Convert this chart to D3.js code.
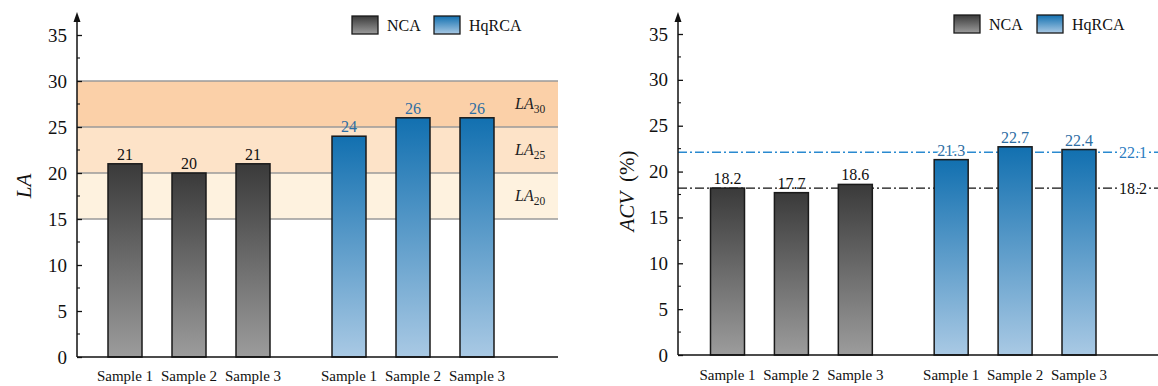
<!DOCTYPE html>
<html>
<head>
<meta charset="utf-8">
<script src="https://cdn.jsdelivr.net/npm/d3@7"></script>
<style>
  html, body { margin: 0; padding: 0; background: #fff; }
  svg { display: block; }
  svg text { font-family: "Liberation Serif", "Times New Roman", Times, "DejaVu Serif", serif; }
</style>
</head>
<body>
<svg id="chart" width="1158" height="386"></svg>
<script>
// ---- data ----
const groups = ["NCA", "HqRCA"];
const samples = ["Sample 1", "Sample 2", "Sample 3"];
const laNCA = [21, 20, 21];
const laHqRCA = [24, 26, 26];
const acvNCA = [18.2, 17.7, 18.6];
const acvHqRCA = [21.3, 22.7, 22.4];
const yTicks = [0, 5, 10, 15, 20, 25, 30, 35];
const laBands = [
  { lo: 15, hi: 20, sub: "20" },
  { lo: 20, hi: 25, sub: "25" },
  { lo: 25, hi: 30, sub: "30" }
];
const acvRefs = [
  { group: "HqRCA", value: 22.1 },
  { group: "NCA", value: 18.2 }
];

// ---- styles ----
const SERIF = "'Liberation Serif', 'Times New Roman', Times, 'DejaVu Serif', serif";
const bandFill = { "20": "#fef2df", "25": "#fde3c8", "30": "#fbd0a8" };
const labelColor = { NCA: "#111", HqRCA: "#2d6ea3" };
const refColor = { NCA: "#111", HqRCA: "#2a8ad0" };

const svg = d3.select("#chart").attr("font-family", SERIF);
const defs = svg.append("defs");

function gradient(id, top, bottom) {
  const g = defs.append("linearGradient").attr("id", id)
    .attr("x1", 0).attr("y1", 0).attr("x2", 0).attr("y2", 1);
  g.append("stop").attr("offset", "0%").attr("stop-color", top);
  g.append("stop").attr("offset", "100%").attr("stop-color", bottom);
}
gradient("g-NCA", "#3a3a3a", "#9c9c9c");
gradient("g-HqRCA", "#1270b0", "#a9c9e4");

function panel(opt) {
  const g = svg.append("g").attr("font-family", SERIF);
  const y = d3.scaleLinear().domain([0, 35]).range([opt.y0, opt.y35]);
  // slot position: sample index plus half a slot gap between groups
  const x = d3.scaleLinear().domain([0, 5.5]).range([opt.xFirst, opt.xLast]);
  const barW = 34;

  const rows = [];
  groups.forEach((grp, gi) => {
    opt.values[gi].forEach((v, si) => {
      rows.push({ grp, sample: samples[si], v, pos: gi * 3.5 + si });
    });
  });

  // background bands
  if (opt.bands) {
    g.selectAll("rect.band").data(opt.bands).join("rect")
      .attr("x", opt.axisX).attr("width", opt.xEnd - opt.axisX)
      .attr("y", d => y(d.hi)).attr("height", d => y(d.lo) - y(d.hi))
      .attr("fill", d => bandFill[d.sub]);
    const lines = Array.from(new Set(opt.bands.flatMap(d => [d.lo, d.hi])));
    g.selectAll("line.grid").data(lines).join("line")
      .attr("x1", opt.axisX).attr("x2", opt.xEnd)
      .attr("y1", d => y(d)).attr("y2", d => y(d))
      .attr("stroke", "#9a9a9a").attr("stroke-width", 1.5);
    const lab = g.selectAll("text.bandlab").data(opt.bands).join("text")
      .attr("x", opt.xEnd - 43).attr("y", d => y((d.lo + d.hi) / 2) + 5)
      .attr("font-size", 16).attr("fill", "#222");
    lab.append("tspan").attr("font-style", "italic").text("LA");
    lab.append("tspan").attr("font-size", 11.5).attr("dy", 4).text(d => d.sub);
  }

  // reference lines
  if (opt.refs) {
    g.selectAll("line.ref").data(opt.refs).join("line")
      .attr("x1", opt.axisX).attr("x2", opt.xEnd)
      .attr("y1", d => y(d.value)).attr("y2", d => y(d.value))
      .attr("stroke", d => refColor[d.group]).attr("stroke-width", 1.4)
      .attr("stroke-dasharray", "9,3,2,3");
  }

  // bars
  g.selectAll("rect.bar").data(rows).join("rect")
    .attr("x", d => x(d.pos) - barW / 2).attr("width", barW)
    .attr("y", d => y(d.v)).attr("height", d => y(0) - y(d.v))
    .attr("fill", d => `url(#g-${d.grp})`)
    .attr("stroke", "#1a1a1a").attr("stroke-width", 1.5);

  // bar value labels
  g.selectAll("text.val").data(rows).join("text")
    .attr("x", d => x(d.pos)).attr("y", d => y(d.v) - 4)
    .attr("text-anchor", "middle").attr("font-size", 16)
    .attr("fill", d => labelColor[d.grp])
    .attr("stroke", d => (opt.refs && d.grp === "HqRCA") ? "#fff" : "none")
    .attr("stroke-width", 4).attr("paint-order", "stroke")
    .text(d => opt.fmt(d.v));

  // reference value labels
  if (opt.refs) {
    g.selectAll("text.refval").data(opt.refs).join("text")
      .attr("x", opt.xEnd - 25).attr("y", d => y(d.value) + 5.5)
      .attr("text-anchor", "middle").attr("font-size", 16)
      .attr("fill", d => d.group === "HqRCA" ? "#2a7cbf" : "#111")
      .attr("stroke", "#fff").attr("stroke-width", 5).attr("paint-order", "stroke")
      .text(d => d.value.toFixed(1));
  }

  // x labels
  g.selectAll("text.xl").data(rows).join("text")
    .attr("x", d => x(d.pos)).attr("y", opt.xLabelY)
    .attr("text-anchor", "middle").attr("font-size", 15).attr("fill", "#111")
    .text(d => d.sample);

  // x axis baseline
  g.append("line").attr("x1", opt.axisX).attr("x2", opt.xEnd)
    .attr("y1", y(0)).attr("y2", y(0))
    .attr("stroke", "#111").attr("stroke-width", 1.5);

  // y axis with inward ticks
  const ya = g.append("g").attr("transform", `translate(${opt.axisX},0)`)
    .call(d3.axisLeft(y).tickValues(yTicks).tickSize(-5).tickPadding(10).tickSizeOuter(0));
  ya.attr("font-family", SERIF);
  ya.select(".domain").remove();
  ya.selectAll(".tick line").attr("stroke", "#111").attr("stroke-width", 1.3);
  ya.selectAll(".tick text").attr("font-size", 19).attr("fill", "#111");
  const minor = d3.range(2.5, 35, 5);
  ya.selectAll("line.minor").data(minor).join("line")
    .attr("x1", 0).attr("x2", 3).attr("y1", d => y(d)).attr("y2", d => y(d))
    .attr("stroke", "#111").attr("stroke-width", 1.1);
  g.append("line").attr("x1", opt.axisX).attr("x2", opt.axisX)
    .attr("y1", y(0)).attr("y2", opt.arrowTop + 6)
    .attr("stroke", "#111").attr("stroke-width", 1.5);
  g.append("path")
    .attr("d", `M${opt.axisX},${opt.arrowTop} L${opt.axisX - 3.5},${opt.arrowTop + 10} L${opt.axisX + 3.5},${opt.arrowTop + 10} Z`)
    .attr("fill", "#111");

  // y title
  const yt = g.append("text")
    .attr("transform", `translate(${opt.titleX},${opt.titleY}) rotate(-90)`)
    .attr("text-anchor", "middle").attr("font-size", 21).attr("fill", "#111");
  yt.append("tspan").attr("font-style", "italic").text(opt.title);
  if (opt.titleUnit) yt.append("tspan").attr("dx", 10).text(opt.titleUnit);

  // legend
  groups.forEach((grp, gi) => {
    const lx = opt.legendX[gi];
    g.append("rect").attr("x", lx).attr("y", opt.legendY).attr("width", 26).attr("height", 18)
      .attr("fill", `url(#g-${grp})`).attr("stroke", "#1a1a1a").attr("stroke-width", 1.3);
    g.append("text").attr("x", lx + 35).attr("y", opt.legendY + 15)
      .attr("font-size", 16).attr("fill", "#111").text(grp);
  });
}

panel({
  values: [laNCA, laHqRCA], y0: 357, y35: 35, axisX: 77, xEnd: 558,
  xFirst: 125, xLast: 477, arrowTop: 12, xLabelY: 381,
  bands: laBands, fmt: d3.format("d"),
  title: "LA", titleX: 31, titleY: 186,
  legendX: [352, 434], legendY: 16
});

panel({
  values: [acvNCA, acvHqRCA], y0: 355, y35: 34, axisX: 678, xEnd: 1158,
  xFirst: 727.5, xLast: 1079, arrowTop: 12, xLabelY: 380,
  refs: acvRefs, fmt: d3.format(".1f"),
  title: "ACV", titleUnit: "(%)", titleX: 634, titleY: 191,
  legendX: [954, 1037], legendY: 15
});
</script>
</body>
</html>
